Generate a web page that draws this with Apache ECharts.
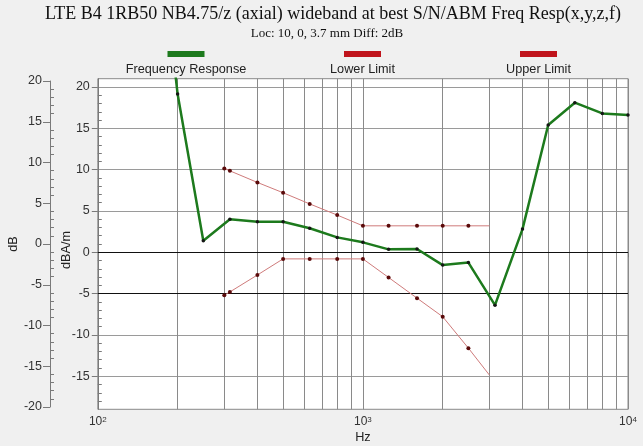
<!DOCTYPE html>
<html><head><meta charset="utf-8">
<script src="https://cdn.jsdelivr.net/npm/echarts@6/dist/echarts.min.js"></script>
<style>html,body{margin:0;padding:0;background:#f0f0f0}#c{width:643px;height:446px}</style>
</head><body><div id="c"></div>
<script>
const titleText = 'LTE B4 1RB50 NB4.75/z (axial) wideband at best S/N/ABM Freq Resp(x,y,z,f)';
const subtitleText = 'Loc: 10, 0, 3.7 mm Diff: 2dB';
const seriesNames = ['Frequency Response', 'Lower Limit', 'Upper Limit'];
const respFreq = [160, 200, 250, 315, 400, 500, 630, 800, 1000, 1250, 1600, 2000, 2500, 3150, 4000, 5000, 6300, 8000, 10000];
const respDb   = [47, 19.15, 1.4, 4.0, 3.7, 3.7, 2.9, 1.8, 1.2, 0.35, 0.4, -1.55, -1.25, -6.4, 2.8, 15.4, 18.1, 16.8, 16.6];
const limitFreq = [300, 315, 400, 500, 630, 800, 1000, 1250, 1600, 2000, 2500, 3000];
const lowerDb = [-5.2, -4.8, -2.75, -0.8, -0.8, -0.8, -0.8, -3.05, -5.55, -7.8, -11.6, -14.85];
const upperDb = [10.15, 9.85, 8.45, 7.2, 5.85, 4.5, 3.2, 3.2, 3.2, 3.2, 3.2, 3.2];
const innerRange = [-19, 21];
const outerRange = [-20, 20];
const innerMajor = [-15, -10, -5, 0, 5, 10, 15, 20];
const outerMajor = [-20, -15, -10, -5, 0, 5, 10, 15, 20];
const xDecades = [100, 1000, 10000];
const darkRefLines = [0, -5];

const SANS = '"Liberation Sans", Arial, sans-serif';
const SERIF = '"Liberation Serif", "Times New Roman", serif';
const colors = ['#1d7a1d', '#c0141c', '#c0141c'];

function minorOf(range) {
  const out = [];
  for (let v = Math.ceil(range[0]); v <= Math.floor(range[1]); v++) {
    if (v % 5 !== 0 && v > range[0] && v < range[1]) out.push(v);
  }
  return out;
}
const vGrid = [];
for (let d = 0; d < xDecades.length - 1; d++) {
  for (let k = 2; k <= 9; k++) vGrid.push(xDecades[d] * k);
}

function pairs(xs, ys, lastNoSymbol) {
  return xs.map((x, i) => {
    const it = { value: [x, ys[i]] };
    if (lastNoSymbol && i === xs.length - 1) it.symbol = 'none';
    return it;
  });
}

const axisGray = '#7a7a7a';
const labelStyle = { color: '#333', fontFamily: SANS, fontSize: 12.5 };

const chart = echarts.init(document.getElementById('c'), null, { renderer: 'canvas' });
const legendX = [186, 362.5, 538.5];
const graphics = [
  { type: 'text', x: 333, y: 14.5, style: { text: titleText, font: '18px ' + SERIF, fill: '#111', textAlign: 'center', align: 'center', textVerticalAlign: 'middle', verticalAlign: 'middle' } },
  { type: 'text', x: 327, y: 34, style: { text: subtitleText, font: '13px ' + SERIF, fill: '#111', textAlign: 'center', align: 'center', textVerticalAlign: 'middle', verticalAlign: 'middle' } }
];
seriesNames.forEach((n, i) => {
  graphics.push({ type: 'rect', shape: { x: legendX[i] - 18.5, y: 51, width: 37, height: 6 }, style: { fill: colors[i] } });
  graphics.push({ type: 'text', x: legendX[i], y: 69, style: { text: n, font: '12.7px ' + SANS, fill: '#222', textAlign: 'center', align: 'center', textVerticalAlign: 'middle', verticalAlign: 'middle' } });
});

const option = {
  animation: false,
  backgroundColor: '#f0f0f0',
  graphic: graphics,
  grid: [
    { left: 97.8, right: 15, top: 78.7, bottom: 36.7, show: true, backgroundColor: '#ffffff', borderColor: '#8a8a8a', borderWidth: 1, containLabel: false, outerBoundsMode: 'none' },
    { left: 50, width: 1, top: 81, bottom: 39, show: false, containLabel: false, outerBoundsMode: 'none' }
  ],
  xAxis: [
    {
      gridIndex: 0, type: 'log', logBase: 10, min: xDecades[0], max: xDecades[xDecades.length - 1],
      axisLine: { show: true, lineStyle: { color: axisGray } },
      axisTick: { show: true, length: 5, lineStyle: { color: axisGray } },
      splitLine: { show: true, lineStyle: { color: '#8a8a8a', width: 1 } },
      axisLabel: {
        margin: 6,
        formatter: v => '{b|10}{s|' + Math.round(Math.log10(v)) + '}',
        rich: { b: { fontSize: 12, fontFamily: SANS, color: '#333' }, s: { fontSize: 8, fontFamily: SANS, color: '#333', verticalAlign: 'top' } }
      },
      name: 'Hz', nameLocation: 'middle', nameGap: 22, nameMoveOverlap: false,
      nameTextStyle: { fontSize: 12.7, fontFamily: SANS, color: '#222' }
    },
    { gridIndex: 1, type: 'value', min: 0, max: 1, show: false }
  ],
  yAxis: [
    {
      gridIndex: 0, type: 'value', min: innerRange[0], max: innerRange[1], position: 'left',
      axisLine: { show: true, lineStyle: { color: axisGray } },
      axisTick: { show: true, inside: false, length: 6, customValues: innerMajor, lineStyle: { color: axisGray } },
      axisLabel: { margin: 8, customValues: innerMajor, ...labelStyle },
      splitLine: { show: true, lineStyle: { color: '#9a9a9a', width: 1 } },
      name: 'dBA/m', nameLocation: 'middle', nameRotate: 90, nameGap: 25, nameMoveOverlap: false,
      nameTextStyle: { fontSize: 12.7, fontFamily: SANS, color: '#222', padding: [0, 12, 0, 0] }
    },
    {
      gridIndex: 0, type: 'value', min: innerRange[0], max: innerRange[1], position: 'left', offset: 0,
      axisLine: { show: false },
      axisTick: { show: true, inside: true, length: 4, customValues: minorOf(innerRange), lineStyle: { color: axisGray } },
      axisLabel: { show: false }, splitLine: { show: false }
    },
    {
      gridIndex: 1, type: 'value', min: outerRange[0], max: outerRange[1], interval: 5, position: 'left',
      axisLine: { show: true, lineStyle: { color: axisGray } },
      axisTick: { show: true, inside: false, length: 7, customValues: outerMajor, lineStyle: { color: axisGray } },
      axisLabel: { margin: 8, customValues: outerMajor, ...labelStyle },
      splitLine: { show: false },
      name: 'dB', nameLocation: 'middle', nameRotate: 90, nameGap: 23,
      nameTextStyle: { fontSize: 12.7, fontFamily: SANS, color: '#222' }
    },
    {
      gridIndex: 1, type: 'value', min: outerRange[0], max: outerRange[1], position: 'left', offset: 0,
      axisLine: { show: false },
      axisTick: { show: true, inside: true, length: 4, customValues: minorOf(outerRange), lineStyle: { color: axisGray } },
      axisLabel: { show: false }, splitLine: { show: false }
    }
  ],
  series: [
    {
      name: seriesNames[1], type: 'line', xAxisIndex: 0, yAxisIndex: 0,
      data: pairs(limitFreq, lowerDb, true),
      symbol: 'circle', symbolSize: 4, showSymbol: true,
      lineStyle: { color: '#cf7b7b', width: 1 }, itemStyle: { color: '#5a0a0a' }, z: 3,
      markLine: {
        silent: true, symbol: 'none', z: 1, label: { show: false }, animation: false,
        data: vGrid.map(f => ({ xAxis: f, lineStyle: { color: '#8a8a8a', width: 1, type: 'solid' } }))
          .concat(darkRefLines.map(v => ({ yAxis: v, lineStyle: { color: '#111', width: 1, type: 'solid' } })))
      }
    },
    {
      name: seriesNames[2], type: 'line', xAxisIndex: 0, yAxisIndex: 0,
      data: pairs(limitFreq, upperDb, true),
      symbol: 'circle', symbolSize: 4, showSymbol: true,
      lineStyle: { color: '#cf7b7b', width: 1 }, itemStyle: { color: '#5a0a0a' }, z: 3
    },
    {
      name: seriesNames[0], type: 'line', xAxisIndex: 0, yAxisIndex: 0,
      data: pairs(respFreq, respDb, false),
      symbol: 'circle', symbolSize: 3.5, showSymbol: true, clip: true,
      lineStyle: { color: colors[0], width: 2.5 }, itemStyle: { color: '#151515' }, z: 4
    }
  ]
};
chart.setOption(option);
</script>
</body></html>
